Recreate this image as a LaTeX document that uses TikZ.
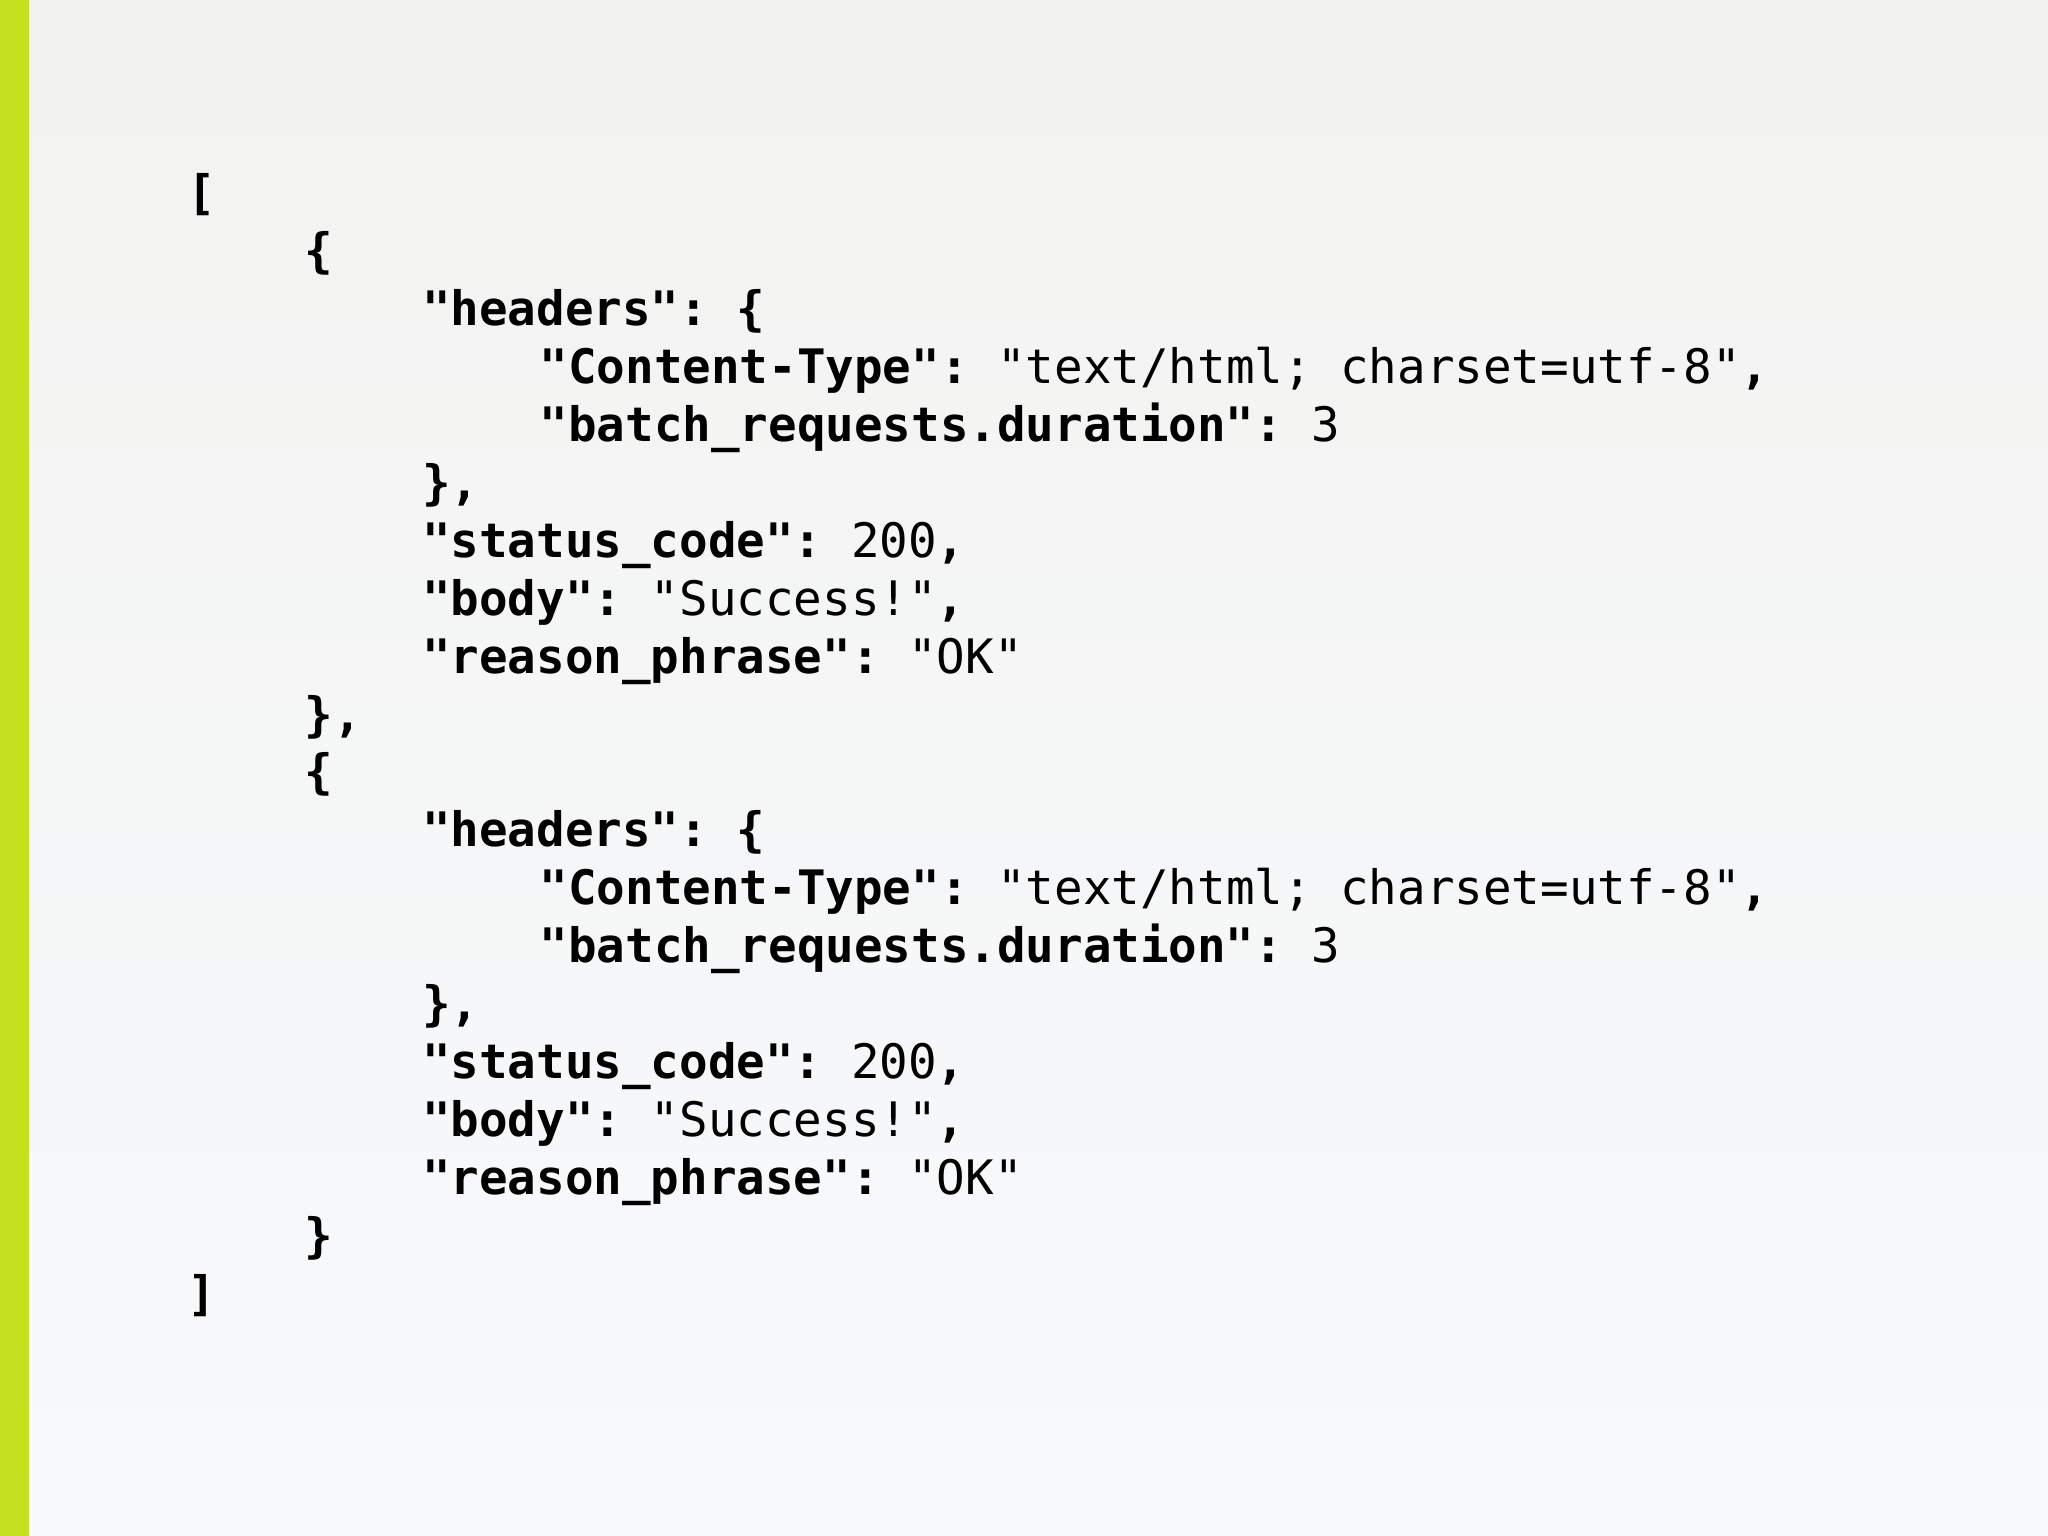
\documentclass[tikz,border=0pt]{standalone}
\usepackage{fontspec}
\setmonofont{DejaVu Sans Mono}
\definecolor{bgtop}{HTML}{F2F3F0}
\definecolor{bgbot}{HTML}{F8F9FC}
\definecolor{lime}{HTML}{C5E01E}
\tikzset{codeline/.style={anchor=base west,inner sep=0pt,font=\fontsize{47.5}{57}\selectfont\ttfamily}}
\newcommand{\K}[1]{\textbf{#1}}
\newcommand{\cl}[4]{\node[codeline] (#1) at ({187+117.5*#3},{1536-210-57.9*#2}) {#4};}
\begin{document}
\begin{tikzpicture}[x=1pt,y=1pt]
\useasboundingbox (0,0) rectangle (2048,1536);
\shade[top color=bgtop,bottom color=bgbot] (0,0) rectangle (2048,1536);
\fill[lime] (0,0) rectangle (29,1536);
\cl{l0}{0}{0}{\K{[}}
\cl{l1}{1}{1}{\K{\{}}
\cl{l2}{2}{2}{\K{"headers": \{}}
\cl{l3}{3}{3}{\K{"Content-Type":} "text/html; charset=utf-8"\K{,}}
\cl{l4}{4}{3}{\K{"batch\_requests.duration":} 3}
\cl{l5}{5}{2}{\K{\},}}
\cl{l6}{6}{2}{\K{"status\_code":} 200\K{,}}
\cl{l7}{7}{2}{\K{"body":} "Success!"\K{,}}
\cl{l8}{8}{2}{\K{"reason\_phrase":} "OK"}
\cl{l9}{9}{1}{\K{\},}}
\cl{l10}{10}{1}{\K{\{}}
\cl{l11}{11}{2}{\K{"headers": \{}}
\cl{l12}{12}{3}{\K{"Content-Type":} "text/html; charset=utf-8"\K{,}}
\cl{l13}{13}{3}{\K{"batch\_requests.duration":} 3}
\cl{l14}{14}{2}{\K{\},}}
\cl{l15}{15}{2}{\K{"status\_code":} 200\K{,}}
\cl{l16}{16}{2}{\K{"body":} "Success!"\K{,}}
\cl{l17}{17}{2}{\K{"reason\_phrase":} "OK"}
\cl{l18}{18}{1}{\K{\}}}
\cl{l19}{19}{0}{\K{]}}
\end{tikzpicture}
\end{document}
